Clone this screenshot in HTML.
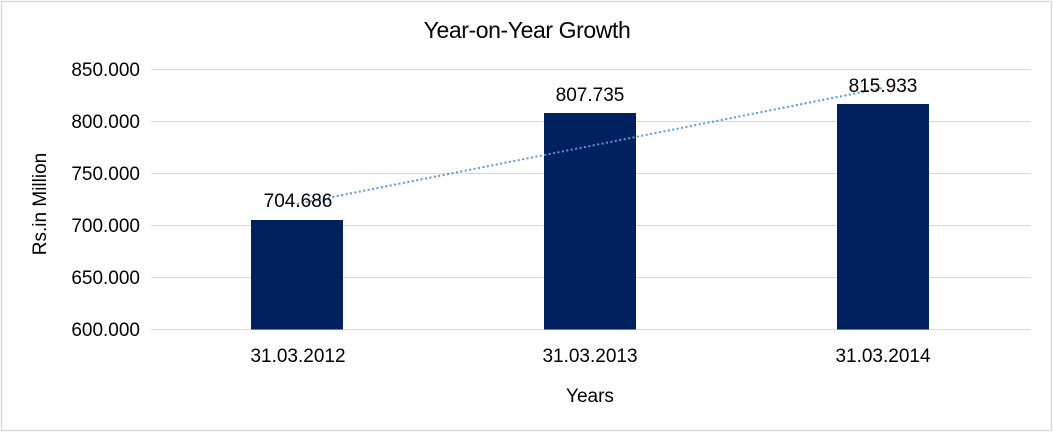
<!DOCTYPE html>
<html><head><style>
html,body{margin:0;padding:0;background:#fff;}
svg{display:block;}
text{font-family:"Liberation Sans",Arial,sans-serif;fill:#000;}
</style></head><body>
<svg width="1053" height="432" viewBox="0 0 1053 432" xmlns="http://www.w3.org/2000/svg">
<rect x="1.5" y="1.5" width="1050" height="429" fill="#fff" stroke="#d9d9d9" stroke-width="1.5"/>
<text x="527" y="38" font-size="23" text-anchor="middle" letter-spacing="-0.4">Year-on-Year Growth</text>
<g stroke="#d9d9d9" stroke-width="1">
<line x1="151" y1="69.5" x2="1031" y2="69.5"/>
<line x1="151" y1="121.5" x2="1031" y2="121.5"/>
<line x1="151" y1="173.5" x2="1031" y2="173.5"/>
<line x1="151" y1="225.5" x2="1031" y2="225.5"/>
<line x1="151" y1="277.5" x2="1031" y2="277.5"/>
<line x1="151" y1="329.5" x2="1031" y2="329.5"/>
</g>
<g font-size="19" text-anchor="end">
<text x="140" y="76">850.000</text>
<text x="140" y="128">800.000</text>
<text x="140" y="180">750.000</text>
<text x="140" y="232">700.000</text>
<text x="140" y="284">650.000</text>
<text x="140" y="336">600.000</text>
</g>
<text transform="translate(46,204) rotate(-90)" font-size="19" text-anchor="middle">Rs.in Million</text>
<g fill="#002060">
<rect x="251" y="220" width="92" height="109.5"/>
<rect x="544" y="113" width="92" height="216.5"/>
<rect x="837" y="104" width="92" height="225.5"/>
</g>
<line x1="297" y1="204" x2="883" y2="88" stroke="#5b9bd5" stroke-width="2" stroke-dasharray="2,2.5"/>
<g font-size="19" text-anchor="middle">
<text x="298" y="207">704.686</text>
<text x="590" y="101">807.735</text>
<text x="883" y="92">815.933</text>
<text x="298" y="362">31.03.2012</text>
<text x="590" y="362">31.03.2013</text>
<text x="883" y="362">31.03.2014</text>
<text x="590" y="402">Years</text>
</g>
</svg>
</body></html>
